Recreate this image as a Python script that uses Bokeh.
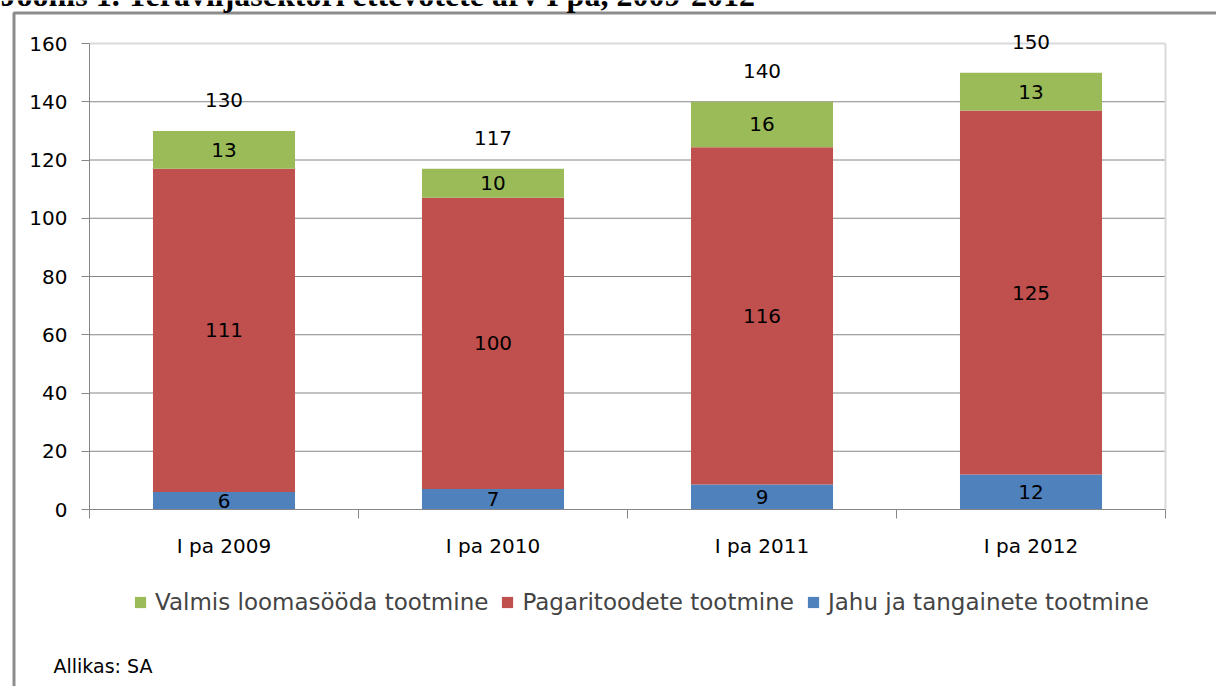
from bokeh.plotting import figure
from bokeh.models import (ColumnDataSource, FixedTicker, Legend, LegendItem,
                          Label, Range1d, LinearAxis, BoxAnnotation)
from bokeh.core.properties import value
from bokeh.embed import file_html
from bokeh.resources import INLINE

# ---------------- data ----------------
title_text = "Joonis 1. Teraviljasektori ettevõtete arv I pa, 2009-2012"
source_text = "Allikas: SA"
categories = ["I pa 2009", "I pa 2010", "I pa 2011", "I pa 2012"]
jahu = [6, 7, 8.6, 12]            # Jahu ja tangainete tootmine
pagari = [111, 100, 115.8, 125]   # Pagaritoodete tootmine
looma = [13, 10, 15.6, 13]        # Valmis loomasööda tootmine
series_names = ["Valmis loomasööda tootmine", "Pagaritoodete tootmine",
                "Jahu ja tangainete tootmine"]
colors = {"looma": "#9BBB59", "pagari": "#C0504D", "jahu": "#4F81BD"}
y_ticks = [0, 20, 40, 60, 80, 100, 120, 140, 160]

# ---------------- layout constants (pixels) ----------------
W, H = 1216, 686
PX_LEFT, PX_RIGHT = 89, 1165     # plot area left/right edge
PX_TOP, PX_BOTTOM = 43, 509      # plot area top (160) / bottom (0)
FONT = "DejaVu Sans"
GRAY = "#868686"
LIGHT = "#D9D9D9"

n = len(categories)
ymax = y_ticks[-1]
ux = (PX_RIGHT - PX_LEFT) / n          # px per category
uy = (PX_BOTTOM - PX_TOP) / ymax       # px per unit
x_start = -PX_LEFT / ux
x_end = n + (W - PX_RIGHT) / ux
y_end = ymax + PX_TOP / uy
y_start = -(H - PX_BOTTOM) / uy


def px2x(px):
    return x_start + px / ux


def px2y(py):
    return y_end - py / uy


xs = [i + 0.5 for i in range(n)]
totals = [a + b + c for a, b, c in zip(jahu, pagari, looma)]

src = ColumnDataSource(dict(x=xs, jahu=jahu, pagari=pagari, looma=looma))

p = figure(width=W, height=H, x_range=Range1d(x_start, x_end),
           y_range=Range1d(y_start, y_end),
           x_axis_location=None, y_axis_location=None,
           output_backend="svg", toolbar_location=None,
           min_border=0, min_border_left=0, min_border_right=0,
           min_border_top=0, min_border_bottom=0)
p.title.visible = False
p.outline_line_color = None
p.background_fill_color = "white"
p.border_fill_color = "white"
p.xgrid.visible = False
p.ygrid.visible = False

# gridlines (within the plot area only)
grid_ys = y_ticks[1:-1]
p.segment(x0=[0] * len(grid_ys), x1=[n] * len(grid_ys), y0=grid_ys, y1=grid_ys,
          line_color=GRAY, line_width=1)
# plot-area border (top and right)
p.segment(x0=[0, n], x1=[n, n], y0=[ymax, 0], y1=[ymax, ymax],
          line_color=LIGHT, line_width=2)

rs = p.vbar_stack(["jahu", "pagari", "looma"], x="x", width=0.528, source=src,
                  color=[colors["jahu"], colors["pagari"], colors["looma"]],
                  line_width=0)
r_jahu, r_pagari, r_looma = rs

# segment labels
lx, ly, lt = [], [], []
for i, x in enumerate(xs):
    base = 0
    for v in (jahu[i], pagari[i], looma[i]):
        lx.append(x)
        ly.append(base + v / 2)
        lt.append(str(int(round(v))))
        base += v
p.text(x=lx, y=ly, text=lt, text_align="center", text_baseline="middle",
       text_font=value(FONT), text_font_size="20px", text_color="#000000")

# totals above bars
p.text(x=xs, y=totals, text=[str(int(round(t))) for t in totals],
       text_align="center", text_baseline="middle", y_offset=-31,
       text_font=value(FONT), text_font_size="20px", text_color="#000000")

# axes, fixed at the plot-area edges
xaxis = LinearAxis(fixed_location=0, bounds=(0, n))
xaxis.ticker = FixedTicker(ticks=xs, minor_ticks=list(range(n + 1)))
xaxis.major_label_overrides = {x: c for x, c in zip(xs, categories)}
xaxis.major_tick_out = 0
xaxis.major_tick_in = 0
xaxis.minor_tick_out = 9
xaxis.minor_tick_in = 0
xaxis.minor_tick_line_color = GRAY
xaxis.axis_line_color = GRAY
xaxis.major_label_standoff = 15

yaxis = LinearAxis(fixed_location=0, bounds=(0, ymax))
yaxis.ticker = FixedTicker(ticks=y_ticks)
yaxis.major_tick_out = 8
yaxis.major_tick_in = 0
yaxis.minor_tick_line_color = None
yaxis.major_tick_line_color = GRAY
yaxis.axis_line_color = GRAY
yaxis.major_label_standoff = 14

for ax in (xaxis, yaxis):
    ax.major_label_text_font = FONT
    ax.major_label_text_font_size = "20px"
    ax.major_label_text_color = "#000000"
p.add_layout(xaxis, "below")
p.add_layout(yaxis, "left")

# legend under the chart
legend = Legend(items=[
    LegendItem(label=series_names[0], renderers=[r_looma]),
    LegendItem(label=series_names[1], renderers=[r_pagari]),
    LegendItem(label=series_names[2], renderers=[r_jahu]),
], orientation="horizontal", location=(133, H - 615), padding=0, margin=0,
    spacing=12, label_standoff=8, glyph_width=14, glyph_height=14,
    label_text_font=FONT, label_text_font_size="23px",
    border_line_alpha=0, background_fill_alpha=0)
p.add_layout(legend)

# outer frame of the figure
p.add_layout(BoxAnnotation(left=px2x(13.5), right=px2x(W + 40),
                           top=px2y(12.5), bottom=px2y(H + 40),
                           fill_alpha=0, line_color="#8C8C8C", line_alpha=1.0,
                           line_width=3))

# title (cut at the top edge like in the source image)
p.add_layout(Label(x=px2x(0), y=px2y(-6), text=title_text,
                   text_font="Liberation Serif", text_font_style="bold",
                   text_font_size="32px", text_baseline="alphabetic",
                   text_color="#000000"))

# source note
p.add_layout(Label(x=px2x(53), y=px2y(665), text=source_text,
                   text_font=FONT, text_font_size="19px",
                   text_baseline="middle", text_color="#000000"))

open("out.html", "w").write(file_html(p, INLINE))
